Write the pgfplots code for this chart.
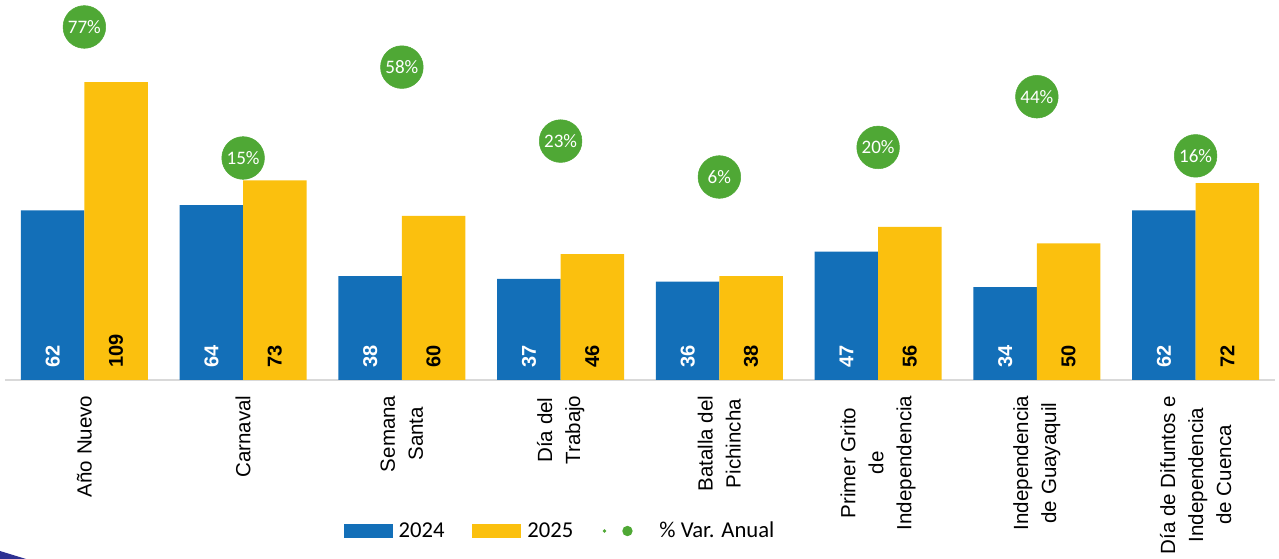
\documentclass[border=0pt]{standalone}
\usepackage{fontspec}
\setmainfont{Liberation Sans}
\newfontfamily\carlito{Carlito}
\usepackage{pgfplots}
\pgfplotsset{compat=1.18}
\definecolor{bblue}{RGB}{19,111,184}
\definecolor{byellow}{RGB}{251,192,14}
\definecolor{vgreen}{RGB}{79,168,53}
\definecolor{axgray}{RGB}{217,217,217}
\definecolor{deco}{RGB}{46,49,146}
\begin{document}
\begin{tikzpicture}
\path[use as bounding box] (-3.75pt,-134.25pt) rectangle (955.5pt,285pt);
\begin{axis}[
  at={(0pt,0pt)}, anchor=south west,
  scale only axis, width=952.5pt, height=285pt,
  xmin=-0.5, xmax=7.5, ymin=0, ymax=139,
  axis x line*=bottom, axis y line=none,
  axis line style={draw=axgray, line width=1.2pt},
  ytick=\empty,
  xtick={0,...,7},
  xticklabels={Año Nuevo, Carnaval, Semana\\Santa, Día del\\Trabajo, Batalla del\\Pichincha, Primer Grito\\de\\Independencia, Independencia\\de Guayaquil, Día de Difuntos e\\Independencia\\de Cuenca},
  major tick length=0pt,
  xticklabel shift=11.5pt,
  xticklabel style={rotate=90, anchor=east, align=center, inner sep=0pt, font=\fontsize{15.4}{21}\selectfont},
  clip=false,
  /pgf/number format/assume math mode=true,
  legend columns=3,
  legend style={at={(0.4362,-0.3974)}, anchor=center, draw=none, fill=none, inner sep=0pt,
    font=\carlito\fontsize{17}{20}\selectfont, nodes={inner sep=0pt},
    /tikz/every odd column/.append style={column sep=4.5pt},
    /tikz/every even column/.append style={column sep=21pt}},
]
\addplot[ybar, bar width=47.6pt, bar shift=-23.8pt, fill=bblue, draw=none,
  nodes near coords, visualization depends on=y \as \rawy,
  every node near coord/.append style={shift={(axis direction cs:0,-\rawy)}, yshift=9pt, xshift=-23.8pt, rotate=90, anchor=west, inner sep=0pt, text=white, font=\fontsize{15}{18}\selectfont\bfseries},
  legend image code/.code={\fill[bblue] (0pt,-5.25pt) rectangle (36.75pt,5.25pt);}]
  coordinates {(0,62) (1,64) (2,38) (3,37) (4,36) (5,47) (6,34) (7,62)};
\addlegendentry{2024}
\addplot[ybar, bar width=47.6pt, bar shift=23.8pt, fill=byellow, draw=none,
  nodes near coords, visualization depends on=y \as \rawy,
  every node near coord/.append style={shift={(axis direction cs:0,-\rawy)}, yshift=9pt, xshift=23.8pt, rotate=90, anchor=west, inner sep=0pt, text=black, font=\fontsize{15}{18}\selectfont\bfseries},
  legend image code/.code={\fill[byellow] (0pt,-5.25pt) rectangle (36.75pt,5.25pt);}]
  coordinates {(0,109) (1,73) (2,60) (3,46) (4,38) (5,56) (6,50) (7,72)};
\addlegendentry{2025}
\addlegendimage{legend image code/.code={\path[draw=none,fill=none] (0pt,-1pt) rectangle (39pt,1pt); \fill[vgreen,draw=none] (2.25pt,0pt) circle (1.4pt); \fill[vgreen,draw=none] (19.5pt,0pt) circle (3.9pt);}}
\addlegendentry{\% Var. Anual}
\end{axis}
\begin{axis}[
  at={(0pt,0pt)}, anchor=south west,
  scale only axis, width=952.5pt, height=285pt,
  xmin=-0.5, xmax=7.5, ymin=-90.06, ymax=89.78,
  hide axis, clip=false,
  /pgf/number format/assume math mode=true,
]
\addplot[only marks, mark=*, mark size=16pt, mark options={fill=vgreen, draw=vgreen},
  point meta=y, nodes near coords={\pgfmathprintnumber{\pgfplotspointmeta}\%},
  every node near coord/.append style={anchor=center, text=white, font=\carlito\fontsize{14.3}{16}\selectfont}]
  coordinates {(0,77) (1,15) (2,58) (3,23) (4,6) (5,20) (6,44) (7,16)};
\end{axis}
\fill[deco] (-3.75pt,-128.25pt) -- (15.75pt,-134.25pt) -- (-3.75pt,-134.25pt) -- cycle;
\end{tikzpicture}
\end{document}
